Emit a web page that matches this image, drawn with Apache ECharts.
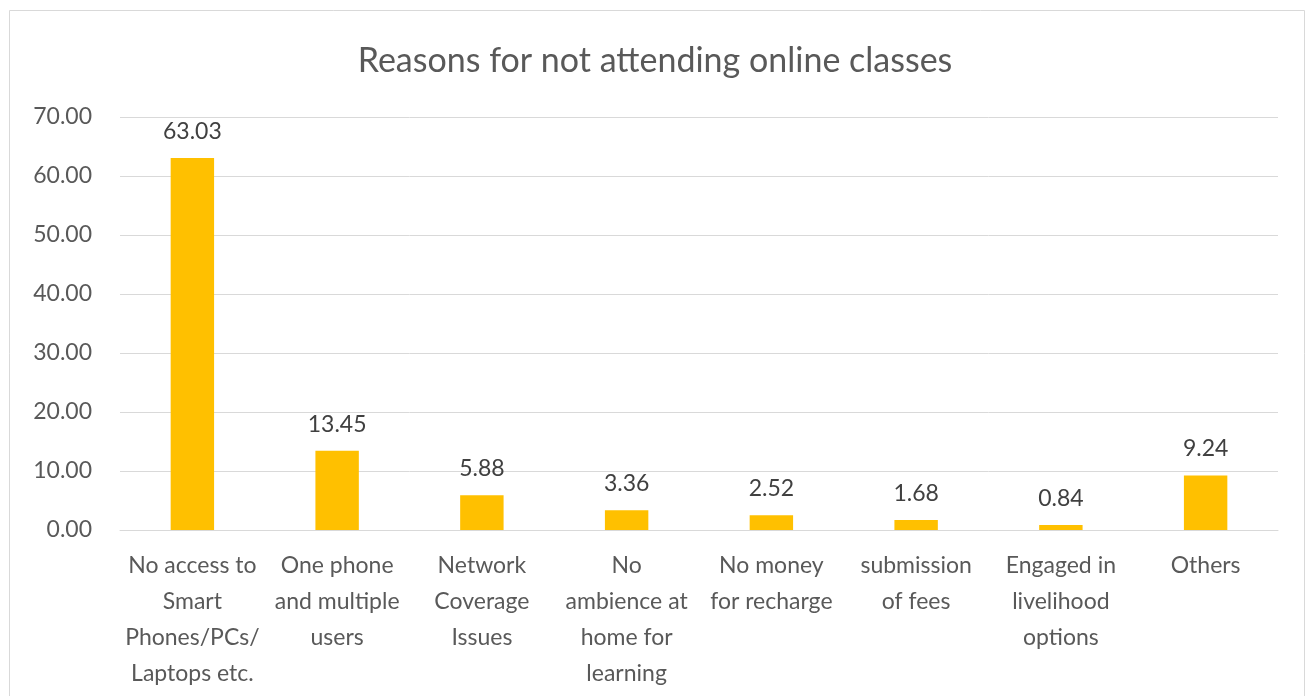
<!DOCTYPE html>
<html>
<head>
<meta charset="utf-8">
<script src="https://cdn.jsdelivr.net/npm/echarts@6/dist/echarts.min.js"></script>
<style>
  html, body { margin: 0; padding: 0; background: #fff; }
  #chart { width: 1310px; height: 696px; }
</style>
</head>
<body>
<div id="chart"></div>
<script>
// Reasons given by students for not attending online classes (% of respondents)
const categories = [
  'No access to\nSmart\nPhones/PCs/\nLaptops etc.',
  'One phone\nand multiple\nusers',
  'Network\nCoverage\nIssues',
  'No\nambience at\nhome for\nlearning',
  'No money\nfor recharge',
  'submission\nof fees',
  'Engaged in\nlivelihood\noptions',
  'Others'
];
const shares = [63.03, 13.45, 5.88, 3.36, 2.52, 1.68, 0.84, 9.24];
const yTicks = { min: 0, max: 70, interval: 10 };

const fontFamily = 'Lato, "Open Sans", sans-serif';
const chart = echarts.init(document.getElementById('chart'));

chart.setOption({
  backgroundColor: '#ffffff',
  animation: false,
  textStyle: { fontFamily },
  title: {
    text: 'Reasons for not attending online classes',
    left: 'center',
    top: 39,
    textStyle: { fontSize: 34, fontWeight: 'normal', color: '#595959', fontFamily }
  },
  graphic: [{
    type: 'rect',
    shape: { x: 9.5, y: 10.5, width: 1295, height: 700 },
    style: { fill: 'none', stroke: '#d9d9d9', lineWidth: 1 },
    silent: true
  }],
  grid: { left: 120, right: 32, top: 117, bottom: 166 },
  xAxis: {
    type: 'category',
    data: categories,
    axisLine: { show: true, lineStyle: { color: '#d9d9d9', width: 1 } },
    axisTick: { show: false },
    axisLabel: {
      interval: 0,
      margin: 18,
      fontSize: 23,
      lineHeight: 36,
      color: '#595959',
      fontFamily
    }
  },
  yAxis: {
    type: 'value',
    min: yTicks.min,
    max: yTicks.max,
    interval: yTicks.interval,
    axisLine: { show: false },
    axisTick: { show: false },
    splitLine: { lineStyle: { color: '#d9d9d9', width: 1 } },
    axisLabel: {
      margin: 28,
      fontSize: 23,
      color: '#595959',
      fontFamily,
      formatter: v => v.toFixed(2)
    }
  },
  series: [{
    type: 'bar',
    data: shares,
    barWidth: '30%',
    itemStyle: { color: '#FFC000' },
    label: {
      show: true,
      position: 'top',
      distance: 15,
      fontSize: 23,
      color: '#404040',
      fontFamily,
      formatter: p => p.value.toFixed(2)
    }
  }]
});
</script>
</body>
</html>
